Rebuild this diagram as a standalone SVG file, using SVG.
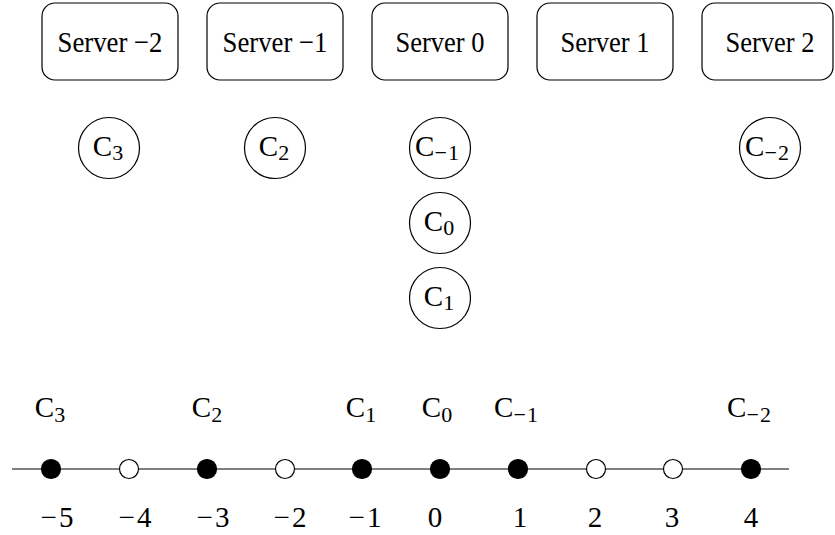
<svg xmlns="http://www.w3.org/2000/svg" width="835" height="535" viewBox="0 0 835 535">
<style>
text{font-family:"Liberation Serif","Times New Roman",serif;font-size:29px;fill:#000;text-anchor:middle}
.srv{font-size:30px}
.sub{font-size:22px}
.box{fill:#fff;stroke:#000;stroke-width:1.2}
.cl{fill:#fff;stroke:#000;stroke-width:1.2}
.dot{fill:#000;stroke:#000;stroke-width:1.2}
.odot{fill:#fff;stroke:#000;stroke-width:1.2}
.ln{stroke:#000;stroke-width:1.2;fill:none}
</style>
<rect width="835" height="535" fill="#fff"/>
<g id="server-m2"><rect class="box" x="42" y="3" width="136" height="77" rx="13"/><text class="srv" x="110" y="52" textLength="105" lengthAdjust="spacingAndGlyphs">Server −2</text></g>
<g id="server-m1"><rect class="box" x="207" y="3" width="136" height="77" rx="13"/><text class="srv" x="275" y="52" textLength="105" lengthAdjust="spacingAndGlyphs">Server −1</text></g>
<g id="server-0"><rect class="box" x="372" y="3" width="136" height="77" rx="13"/><text class="srv" x="440" y="52" textLength="89" lengthAdjust="spacingAndGlyphs">Server 0</text></g>
<g id="server-1"><rect class="box" x="537" y="3" width="136" height="77" rx="13"/><text class="srv" x="605" y="52" textLength="89" lengthAdjust="spacingAndGlyphs">Server 1</text></g>
<g id="server-2"><rect class="box" x="702" y="3" width="131" height="77" rx="13"/><text class="srv" x="770" y="52" textLength="89" lengthAdjust="spacingAndGlyphs">Server 2</text></g>

<g id="client-3"><circle class="cl" cx="109" cy="148" r="30.5"/><text x="108" y="156">C<tspan class="sub" dy="4">3</tspan></text></g>
<g id="client-2"><circle class="cl" cx="275" cy="148" r="30.5"/><text x="274" y="156">C<tspan class="sub" dy="4">2</tspan></text></g>
<g id="client-m1"><circle class="cl" cx="440" cy="148" r="30.5"/><text x="437" y="156">C<tspan class="sub" dy="4">−</tspan><tspan class="sub" dx="1">1</tspan></text></g>
<g id="client-m2"><circle class="cl" cx="770" cy="148" r="30.5"/><text x="767" y="156">C<tspan class="sub" dy="4">−</tspan><tspan class="sub" dx="1">2</tspan></text></g>
<g id="client-0"><circle class="cl" cx="440" cy="223" r="30.5"/><text x="439" y="231">C<tspan class="sub" dy="4">0</tspan></text></g>
<g id="client-1"><circle class="cl" cx="440" cy="298" r="30.5"/><text x="439" y="306">C<tspan class="sub" dy="4">1</tspan></text></g>

<g id="connectors">
<line class="ln" x1="12" y1="469" x2="789" y2="469"/>
</g>

<g id="number-line">
<circle class="dot" cx="51" cy="469" r="9.5"/>
<circle class="odot" cx="129" cy="469" r="9.5"/>
<circle class="dot" cx="207" cy="469" r="9.5"/>
<circle class="odot" cx="285" cy="469" r="9.5"/>
<circle class="dot" cx="362" cy="469" r="9.5"/>
<circle class="dot" cx="440" cy="469" r="9.5"/>
<circle class="dot" cx="518" cy="469" r="9.5"/>
<circle class="odot" cx="596" cy="469" r="9.5"/>
<circle class="odot" cx="673" cy="469" r="9.5"/>
<circle class="dot" cx="751" cy="469" r="9.5"/>

<text x="57" y="527">−<tspan dx="2">5</tspan></text>
<text x="135" y="527">−<tspan dx="2">4</tspan></text>
<text x="213" y="527">−<tspan dx="2">3</tspan></text>
<text x="290" y="527">−<tspan dx="2">2</tspan></text>
<text x="365" y="527">−<tspan dx="2">1</tspan></text>
<text x="435" y="527">0</text>
<text x="520" y="527">1</text>
<text x="595" y="527">2</text>
<text x="672" y="527">3</text>
<text x="751" y="527">4</text>

<text x="50" y="417">C<tspan class="sub" dy="5">3</tspan></text>
<text x="207" y="417">C<tspan class="sub" dy="5">2</tspan></text>
<text x="361" y="417">C<tspan class="sub" dy="5">1</tspan></text>
<text x="437" y="417">C<tspan class="sub" dy="5">0</tspan></text>
<text x="516" y="417">C<tspan class="sub" dy="5">−</tspan><tspan class="sub" dx="1">1</tspan></text>
<text x="749" y="417">C<tspan class="sub" dy="5">−</tspan><tspan class="sub" dx="1">2</tspan></text>
</g>
</svg>
